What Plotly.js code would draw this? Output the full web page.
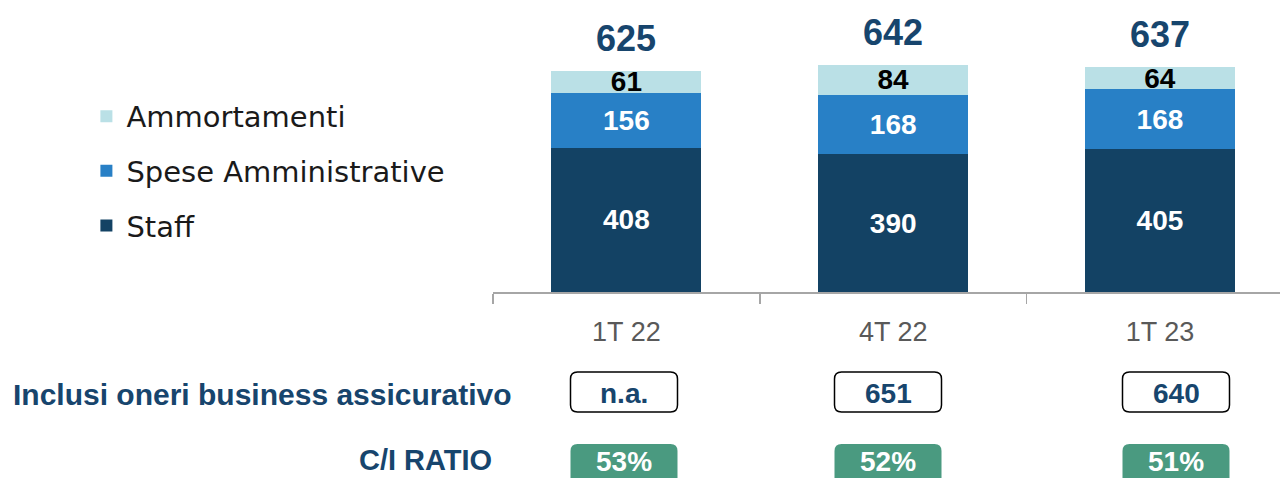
<!DOCTYPE html>
<html>
<head>
<meta charset="utf-8">
<script src="https://cdn.plot.ly/plotly-3.0.1.min.js"></script>
<style>html,body{margin:0;padding:0;background:#fff;}#chart{width:1280px;height:478px;}</style>
</head>
<body>
<div id="chart"></div>
<script>
// ---- data ----
var categories = ['1T 22', '4T 22', '1T 23'];
var staff = [408, 390, 405];
var speseAmm = [156, 168, 168];
var ammortamenti = [61, 84, 64];
var totals = [625, 642, 637];
var oneriAssicurativo = ['n.a.', '651', '640'];
var ciRatio = ['53%', '52%', '51%'];
var rowLabels = ['Inclusi oneri business assicurativo', 'C/I RATIO'];

// ---- layout constants (pixels) ----
var W = 1280, H = 478, L = 493, B = 186;
var PW = W - L, PH = H - B;
function px(xp) { return (xp - L) / PW; }
function py(yp) { return (PH - yp) / PH; }
var boxCenters = [624, 888, 1176];
var boxW = 107;

function roundRect(x0, y0, x1, y1, r) {
  var pts = [
    ['M', x0 + r, y0], ['L', x1 - r, y0], ['Q', x1, y0, x1, y0 + r],
    ['L', x1, y1 - r], ['Q', x1, y1, x1 - r, y1], ['L', x0 + r, y1],
    ['Q', x0, y1, x0, y1 - r], ['L', x0, y0 + r], ['Q', x0, y0, x0 + r, y0]
  ];
  return pts.map(function (p) {
    var s = p[0];
    for (var i = 1; i < p.length; i += 2) s += (i > 1 ? ' ' : '') + px(p[i]).toFixed(5) + ',' + py(p[i + 1]).toFixed(5);
    return s;
  }).join(' ') + ' Z';
}

var numFont = 'Liberation Sans Narrow, Arial Narrow, sans-serif';
var navy = '#17456d';

var traces = [
  {type: 'bar', name: 'Staff', x: categories, y: staff, legendgroup: 'a', legendrank: 3,
   marker: {color: '#134264'}, text: staff.map(String), textposition: 'inside',
   insidetextanchor: 'middle', textangle: 0,
   textfont: {family: numFont, size: 28, color: '#ffffff', weight: 'bold'}, hoverinfo: 'none'},
  {type: 'bar', name: 'Spese Amministrative', x: categories, y: speseAmm, legendgroup: 'b', legendrank: 2,
   marker: {color: '#2880c6'}, text: speseAmm.map(String), textposition: 'inside',
   insidetextanchor: 'middle', textangle: 0,
   textfont: {family: numFont, size: 28, color: '#ffffff', weight: 'bold'}, hoverinfo: 'none'},
  {type: 'bar', name: 'Ammortamenti', x: categories, y: ammortamenti, legendgroup: 'c', legendrank: 1,
   marker: {color: '#bae0e6'}, text: ammortamenti.map(String), textposition: 'inside',
   insidetextanchor: 'middle', textangle: 0,
   textfont: {family: numFont, size: 28, color: '#000000', weight: 'bold'}, hoverinfo: 'none'}
];

var annotations = [];
categories.forEach(function (c, i) {
  annotations.push({x: c, y: totals[i], xref: 'x', yref: 'y', text: String(totals[i]),
    showarrow: false, yanchor: 'bottom', yshift: 10,
    font: {family: numFont, size: 36, color: navy, weight: 'bold'}});
});
var shapes = [];
boxCenters.forEach(function (cx, i) {
  shapes.push({type: 'path', xref: 'paper', yref: 'paper',
    path: roundRect(cx - boxW / 2, 372, cx + boxW / 2, 412, 7),
    line: {color: '#000000', width: 1.5}, fillcolor: '#ffffff', layer: 'above'});
  shapes.push({type: 'path', xref: 'paper', yref: 'paper',
    path: roundRect(cx - boxW / 2, 444, cx + boxW / 2, 500, 7),
    line: {color: '#4a9a80', width: 0}, fillcolor: '#4a9a80', layer: 'above'});
  annotations.push({xref: 'paper', yref: 'paper', x: px(cx), y: py(393), text: oneriAssicurativo[i],
    showarrow: false, xanchor: 'center', yanchor: 'middle',
    font: {family: numFont, size: 28, color: navy, weight: 'bold'}});
  annotations.push({xref: 'paper', yref: 'paper', x: px(cx), y: py(461), text: ciRatio[i],
    showarrow: false, xanchor: 'center', yanchor: 'middle',
    font: {family: numFont, size: 28, color: '#ffffff', weight: 'bold'}});
});
annotations.push({xref: 'paper', yref: 'paper', x: px(514), y: py(394), text: rowLabels[0],
  showarrow: false, xanchor: 'right', yanchor: 'middle',
  font: {family: numFont, size: 30, color: navy, weight: 'bold'}});
annotations.push({xref: 'paper', yref: 'paper', x: px(494), y: py(460), text: rowLabels[1],
  showarrow: false, xanchor: 'right', yanchor: 'middle',
  font: {family: numFont, size: 29, color: navy, weight: 'bold'}});

var layout = {
  width: W, height: H,
  margin: {l: L, r: 0, t: 0, b: B, pad: 0},
  paper_bgcolor: '#ffffff', plot_bgcolor: '#ffffff',
  barmode: 'stack', bargap: 0.438,
  uniformtext: {mode: 'show', minsize: 28},
  showlegend: true,
  legend: {xref: 'container', yref: 'container', x: 0.0675, y: 0.81, xanchor: 'left', yanchor: 'top',
    traceorder: 'grouped', tracegroupgap: 14,
    font: {family: 'DejaVu Sans', size: 29, color: '#1a1a1a'}, bgcolor: 'rgba(0,0,0,0)'},
  xaxis: {type: 'category', range: [-0.5, 2.45], showline: true, linecolor: '#a6a6a6', linewidth: 1.5,
    ticks: 'outside', tickson: 'boundaries', ticklen: 10, tickcolor: '#a6a6a6', tickwidth: 1.5,
    ticklabelstandoff: 15,
    tickfont: {family: numFont, size: 27, color: '#595959'}, showgrid: false, zeroline: false, fixedrange: true},
  yaxis: {range: [0, PH / 0.3536], visible: false, showgrid: false, zeroline: false, fixedrange: true},
  annotations: annotations,
  shapes: shapes
};

Plotly.newPlot('chart', traces, layout, {displayModeBar: false, staticPlot: true});
</script>
</body>
</html>
